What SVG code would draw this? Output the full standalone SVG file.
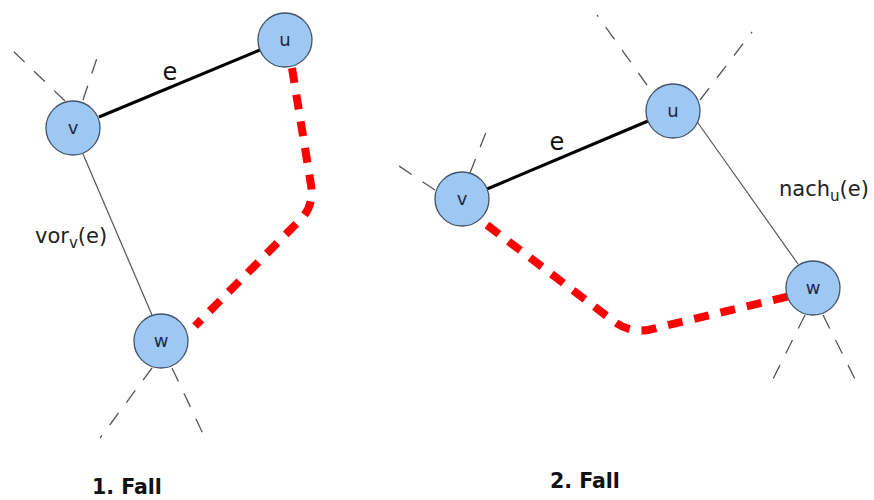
<svg xmlns="http://www.w3.org/2000/svg" width="874" height="500" viewBox="0 0 874 500">
<style>
.node{fill:#9dc8f3;stroke:#44546a;stroke-width:1.3}
.nl{font-family:"DejaVu Sans",sans-serif;font-size:18px;fill:#1c2a44;text-anchor:middle}
.lbl{font-family:"DejaVu Sans",sans-serif;font-size:21px;fill:#222}
.el{font-family:"DejaVu Sans",sans-serif;font-size:24px;fill:#111;text-anchor:middle}
.title{font-family:"DejaVu Sans",sans-serif;font-size:20.5px;font-weight:bold;fill:#111}
.edge{stroke:#000;stroke-width:3;fill:none}
.thin{stroke:#555;stroke-width:1.2;fill:none}
.stub{stroke:#555;stroke-width:1.3;fill:none;stroke-dasharray:15 13}
.path{stroke:#f00;stroke-width:8;fill:none;stroke-dasharray:15 12}
</style>
<rect width="874" height="500" fill="#fff"/>
<g id="connectors">
  <line class="edge" x1="99" y1="117" x2="260" y2="50"/>
  <line class="thin" x1="83" y1="154" x2="152" y2="315"/>
  <path class="path" d="M292 68 L311 185 Q314 205 302 218 L195 326"/>
  <line class="stub" x1="65" y1="101" x2="11" y2="49"/>
  <line class="stub" x1="83" y1="100" x2="100" y2="49"/>
  <line class="stub" x1="152" y1="368" x2="100" y2="438"/>
  <line class="stub" x1="172" y1="368" x2="205" y2="438"/>

  <line class="edge" x1="487" y1="189" x2="648" y2="121"/>
  <line class="thin" x1="698" y1="123" x2="798" y2="264"/>
  <path class="path" d="M487 225 L612 320 Q628 333 648 330 L790 296"/>
  <line class="stub" x1="647" y1="85" x2="597" y2="15"/>
  <line class="stub" x1="700" y1="100" x2="752" y2="32"/>
  <line class="stub" x1="435" y1="190" x2="390" y2="160"/>
  <line class="stub" x1="470" y1="173" x2="490" y2="122"/>
  <line class="stub" x1="805" y1="315" x2="770" y2="385"/>
  <line class="stub" x1="823" y1="315" x2="858" y2="385"/>
</g>
<g id="u1"><circle class="node" cx="285" cy="40" r="27"/><text class="nl" x="285" y="46">u</text></g>
<g id="v1"><circle class="node" cx="73" cy="128" r="27"/><text class="nl" x="73" y="134">v</text></g>
<g id="w1"><circle class="node" cx="161" cy="341" r="27"/><text class="nl" x="161" y="347">w</text></g>
<g id="u2"><circle class="node" cx="673" cy="111" r="27"/><text class="nl" x="673" y="117">u</text></g>
<g id="v2"><circle class="node" cx="462" cy="199" r="27"/><text class="nl" x="462" y="205">v</text></g>
<g id="w2"><circle class="node" cx="813" cy="288" r="27"/><text class="nl" x="813" y="294">w</text></g>
<g id="labels">
  <text class="el" x="170" y="80">e</text>
  <text class="el" x="557" y="150">e</text>
  <text class="lbl" x="35" y="243">vor<tspan font-size="15" dy="5">v</tspan><tspan dy="-5">(e)</tspan></text>
  <text class="lbl" x="779" y="196">nach<tspan font-size="15" dy="5">u</tspan><tspan dy="-5">(e)</tspan></text>
  <text class="title" x="92" y="494">1. Fall</text>
  <text class="title" x="550" y="488">2. Fall</text>
</g>
</svg>
